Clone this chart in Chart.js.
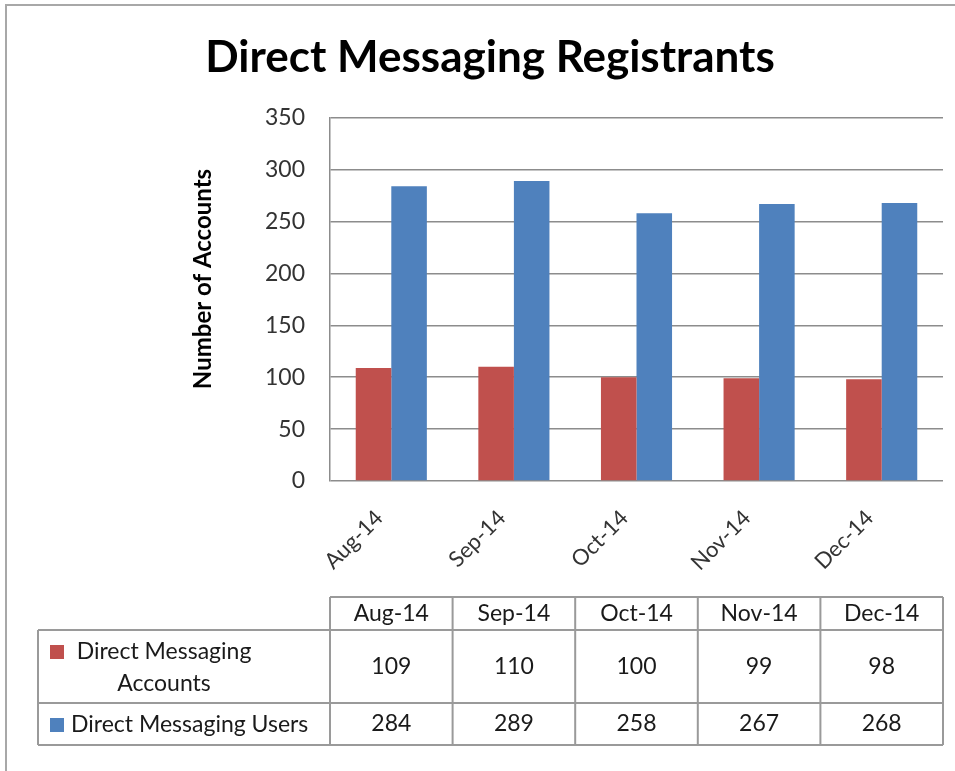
<!DOCTYPE html>
<html><head><meta charset="utf-8">
<script src="https://cdn.jsdelivr.net/npm/chart.js@4.4.0/dist/chart.umd.min.js"></script>
<style>html,body{margin:0;padding:0;background:#fff;}canvas{display:block}</style>
</head><body>
<canvas id="c" width="955" height="771"></canvas>
<script>
const categories = ['Aug-14', 'Sep-14', 'Oct-14', 'Nov-14', 'Dec-14'];
const accounts = [109, 110, 100, 99, 98];
const users = [284, 289, 258, 267, 268];
const seriesNames = ['Direct Messaging Accounts', 'Direct Messaging Users'];
const seriesColors = ['#C0504D', '#4F81BD'];
const chartTitle = 'Direct Messaging Registrants';
const yTitle = 'Number of Accounts';

const FONT = 'Lato, "Open Sans", sans-serif';
const LINE = '#9a9a9a';

const extras = {
  id: 'extras',
  afterDraw(chart) {
    const ctx = chart.ctx;
    const xs = chart.scales.x;
    const step = xs.getPixelForValue(1) - xs.getPixelForValue(0);
    const edges = categories.map((c, i) => xs.getPixelForValue(i) - step / 2);
    edges.push(xs.getPixelForValue(categories.length - 1) + step / 2);
    const L = 38, yH = 597, y1 = 630, y2 = 703, y3 = 745;
    ctx.save();
    // outer frame
    ctx.strokeStyle = '#a8a8a8';
    ctx.lineWidth = 2;
    ctx.beginPath();
    ctx.moveTo(6, 771); ctx.lineTo(6, 5); ctx.lineTo(955, 5);
    ctx.stroke();
    // y axis title
    ctx.fillStyle = '#000';
    ctx.font = 'bold 24px ' + FONT;
    ctx.textAlign = 'center';
    ctx.textBaseline = 'middle';
    ctx.translate(203, 279);
    ctx.rotate(-Math.PI / 2);
    ctx.fillText(yTitle, 0, 0);
    ctx.restore();

    ctx.save();
    // table grid
    ctx.strokeStyle = LINE;
    ctx.lineWidth = 2;
    const R = edges[edges.length - 1];
    ctx.beginPath();
    ctx.moveTo(edges[0], yH); ctx.lineTo(R, yH);
    ctx.moveTo(L, y1); ctx.lineTo(R, y1);
    ctx.moveTo(L, y2); ctx.lineTo(R, y2);
    ctx.moveTo(L, y3); ctx.lineTo(R, y3);
    ctx.moveTo(L, y1); ctx.lineTo(L, y3);
    edges.forEach(e => { ctx.moveTo(e, yH); ctx.lineTo(e, y3); });
    ctx.stroke();

    ctx.fillStyle = '#1a1a1a';
    ctx.font = '23px ' + FONT;
    ctx.textAlign = 'center';
    ctx.textBaseline = 'middle';
    categories.forEach((c, i) => {
      const cx = xs.getPixelForValue(i);
      ctx.fillText(c, cx, (yH + y1) / 2);
      ctx.fillText(String(accounts[i]), cx, (y1 + y2) / 2);
      ctx.fillText(String(users[i]), cx, (y2 + y3) / 2);
    });
    // legend keys
    ctx.fillStyle = seriesColors[0];
    ctx.fillRect(50, 645, 14, 14);
    ctx.fillStyle = seriesColors[1];
    ctx.fillRect(50, 718, 14, 14);
    ctx.fillStyle = '#1a1a1a';
    const n0 = seriesNames[0];
    const cut = n0.lastIndexOf(' ');
    ctx.textAlign = 'center';
    ctx.fillText(n0.slice(0, cut), 164, 652);
    ctx.fillText(n0.slice(cut + 1), 164, 684);
    ctx.textAlign = 'left';
    ctx.fillText(seriesNames[1], 71, 725);
    ctx.restore();
  }
};

new Chart(document.getElementById('c'), {
  type: 'bar',
  data: {
    labels: categories,
    datasets: [
      { label: seriesNames[0], data: accounts, backgroundColor: seriesColors[0], borderWidth: 0 },
      { label: seriesNames[1], data: users, backgroundColor: seriesColors[1], borderWidth: 0 }
    ]
  },
  options: {
    responsive: false,
    animation: false,
    devicePixelRatio: 1,
    layout: { padding: { left: 37, right: 12, top: 0, bottom: 0 } },
    datasets: { bar: { categoryPercentage: 0.58, barPercentage: 1.0 } },
    plugins: {
      legend: { display: false },
      tooltip: { enabled: false },
      title: {
        display: true, text: chartTitle, color: '#000',
        font: { family: FONT, size: 44, weight: 'bold', lineHeight: 1.2 },
        padding: { top: 31, bottom: 34 }
      }
    },
    scales: {
      x: {
        grid: { display: false },
        border: { display: false },
        ticks: {
          color: '#333', font: { family: FONT, size: 22 },
          minRotation: 45, maxRotation: 45, padding: 16, labelOffset: -12
        },
        afterFit(s) { s.height = 290; }
      },
      y: {
        min: 0, max: 350,
        grid: { color: '#8c8c8c', lineWidth: 1.5, drawTicks: false },
        border: { display: true, color: '#8c8c8c', width: 1.5 },
        ticks: { stepSize: 50, color: '#333', padding: 25, font: { family: FONT, size: 23 } },
        afterFit(s) { s.width = 293; }
      }
    }
  },
  plugins: [extras]
});
</script>
</body></html>
